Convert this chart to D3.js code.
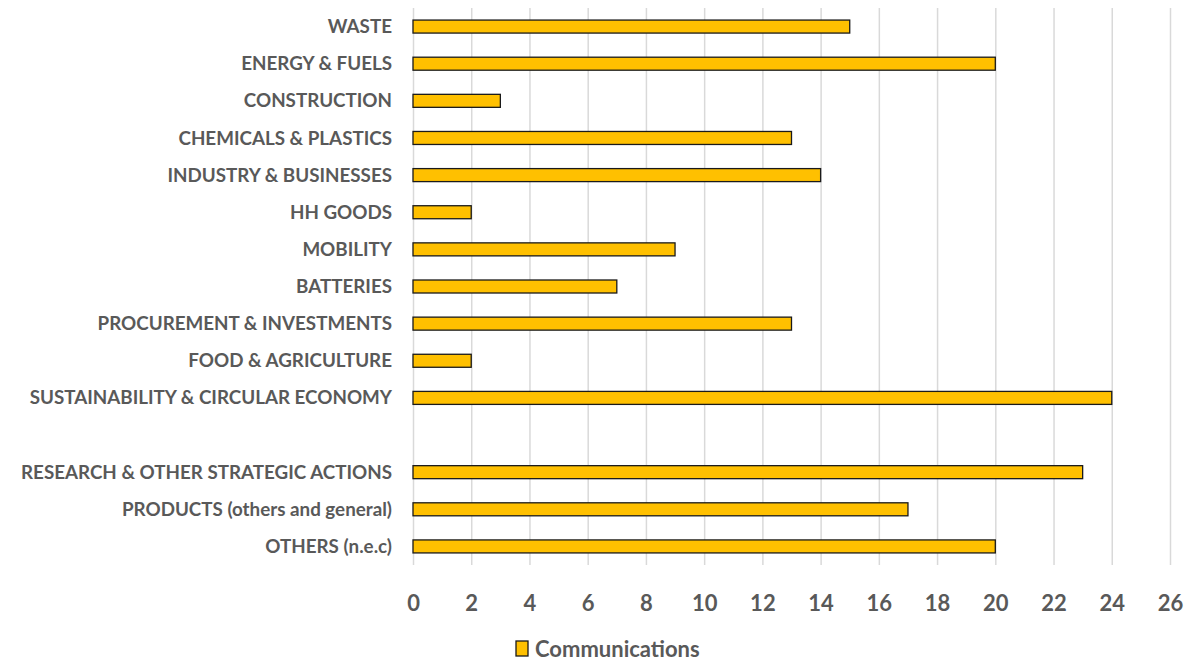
<!DOCTYPE html>
<html>
<head>
<meta charset="utf-8">
<script src="https://cdn.jsdelivr.net/npm/d3@7"></script>
<style>
  body { margin: 0; background: #fff; }
  svg { display: block; }
</style>
</head>
<body>
<div id="chart"></div>
<script>
// chart data (top to bottom, blank row is a spacer category)
const categories = [
  'WASTE', 'ENERGY & FUELS', 'CONSTRUCTION', 'CHEMICALS & PLASTICS',
  'INDUSTRY & BUSINESSES', 'HH GOODS', 'MOBILITY', 'BATTERIES',
  'PROCUREMENT & INVESTMENTS', 'FOOD & AGRICULTURE',
  'SUSTAINABILITY & CIRCULAR ECONOMY', '',
  'RESEARCH & OTHER STRATEGIC ACTIONS', 'PRODUCTS (others and general)', 'OTHERS (n.e.c)'
];
const communications = [15, 20, 3, 13, 14, 2, 9, 7, 13, 2, 24, null, 23, 17, 20];
const xTicks = [0, 2, 4, 6, 8, 10, 12, 14, 16, 18, 20, 22, 24, 26];
const seriesName = 'Communications';

const width = 1198, height = 661;
const margin = {top: 8, right: 28, bottom: 96, left: 413};
const textColor = '#595959';
const barColor = '#FFC000';
const fontFamily = 'Lato, "Open Sans", sans-serif';

const svg = d3.select('#chart').append('svg')
  .attr('width', width)
  .attr('height', height);

const x = d3.scaleLinear()
  .domain([0, 26])
  .range([margin.left, 1170]);

const y = d3.scaleBand()
  .domain(d3.range(categories.length))
  .range([margin.top, 565]);

// gridlines
svg.append('g')
  .selectAll('line')
  .data(xTicks)
  .join('line')
    .attr('x1', d => x(d) + 0.5)
    .attr('x2', d => x(d) + 0.5)
    .attr('y1', margin.top)
    .attr('y2', 565)
    .attr('stroke', '#d9d9d9')
    .attr('stroke-width', 1.5);

// bars
const barH = 13;
svg.append('g')
  .selectAll('rect')
  .data(communications.map((v, i) => ({v, i})).filter(d => d.v != null))
  .join('rect')
    .attr('x', x(0))
    .attr('y', d => y(d.i) + y.bandwidth() / 2 - barH / 2)
    .attr('width', d => x(d.v) - x(0))
    .attr('height', barH)
    .attr('fill', barColor)
    .attr('stroke', '#1a1a1a')
    .attr('stroke-width', 1.3);

// category labels
svg.append('g')
  .selectAll('text')
  .data(categories)
  .join('text')
    .attr('x', 392)
    .attr('y', (d, i) => y(i) + y.bandwidth() / 2)
    .attr('dy', '0.35em')
    .attr('text-anchor', 'end')
    .attr('fill', textColor)
    .style('font-family', fontFamily)
    .style('font-weight', 'bold')
    .style('font-size', '18.8px')
    .text(d => d);

// x axis labels
const xAxis = d3.axisBottom(x)
  .tickValues(xTicks)
  .tickSize(0)
  .tickPadding(0);
const gx = svg.append('g')
  .attr('transform', 'translate(0, 595)')
  .call(xAxis);
gx.select('.domain').remove();
gx.selectAll('text')
  .attr('fill', textColor)
  .attr('dy', '0.71em')
  .style('font-family', fontFamily)
  .style('font-weight', 'bold')
  .style('font-size', '22px');

// legend
const legend = svg.append('g').attr('transform', 'translate(516, 641)');
legend.append('rect')
  .attr('width', 12)
  .attr('height', 15)
  .attr('fill', barColor)
  .attr('stroke', '#1a1a1a')
  .attr('stroke-width', 1.3);
legend.append('text')
  .attr('x', 19)
  .attr('y', 8)
  .attr('dy', '0.35em')
  .attr('fill', textColor)
  .style('font-family', fontFamily)
  .style('font-weight', 'bold')
  .style('font-size', '22px')
  .text(seriesName);
</script>
</body>
</html>
